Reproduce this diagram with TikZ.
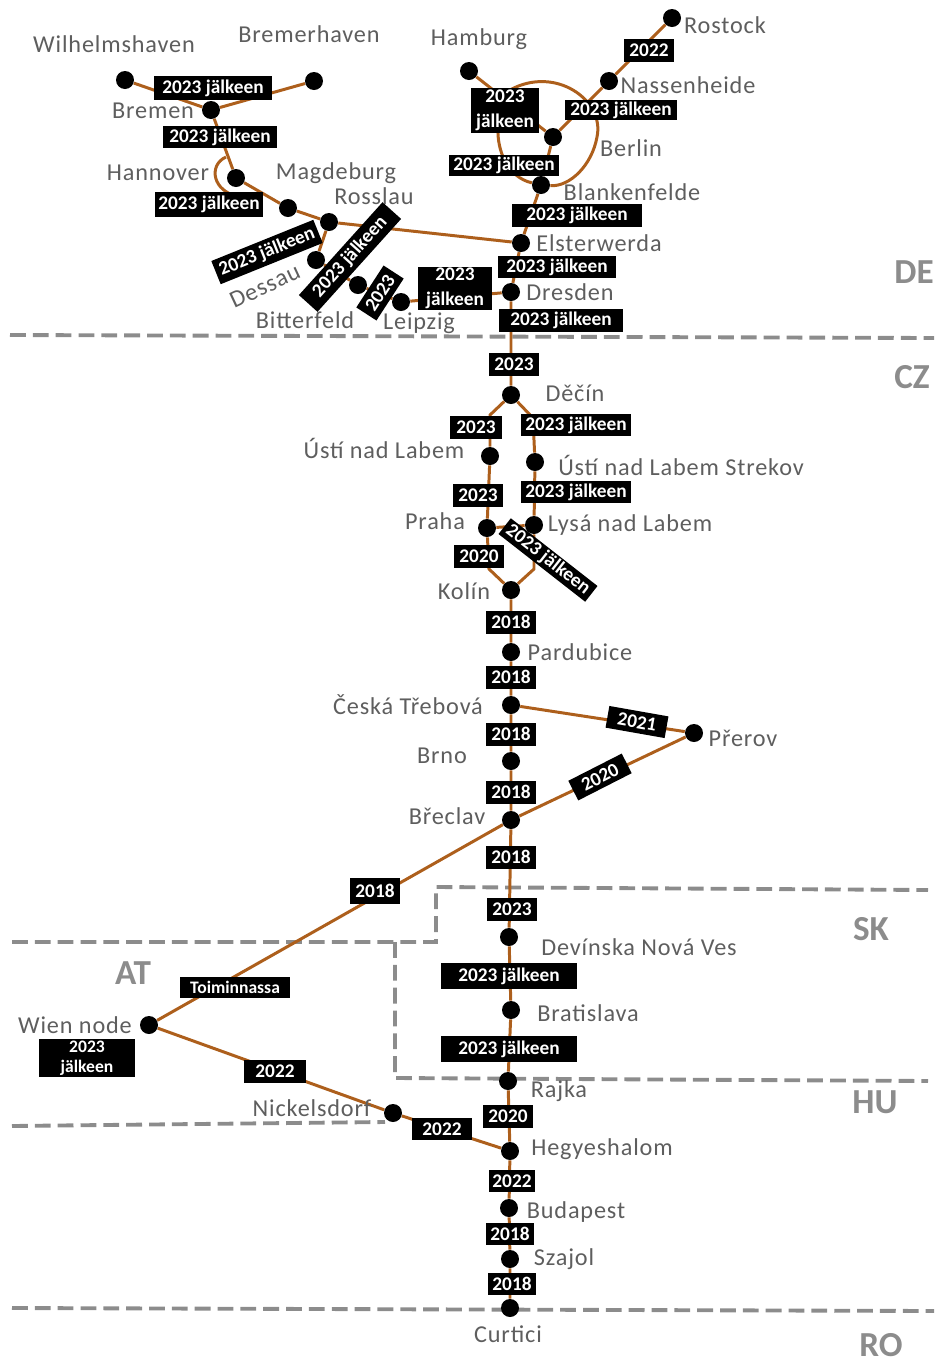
\documentclass[tikz,border=0pt]{standalone}
\usepackage{fontspec}
\usetikzlibrary{backgrounds}
\setmainfont{Carlito}
\newfontfamily\stnfont[LetterSpace=3.5]{Carlito}
\definecolor{trackbrown}{HTML}{AD5F1C}
\definecolor{bordergray}{HTML}{8C8C8C}
\definecolor{stngray}{HTML}{5E5E5E}
\tikzset{
  stn/.style={circle,fill=black,inner sep=0pt,minimum size=0.36cm},
  lbl/.style={inner sep=0pt,text=stngray,font=\stnfont\fontsize{13.8}{15}\selectfont},
  country/.style={inner sep=0pt,text=bordergray,font=\bfseries\fontsize{20}{22}\selectfont},
  tag/.style={fill=black,text=white,inner sep=0pt,align=center,font=\bfseries\fontsize{11}{14}\selectfont},
  tagwide/.style={tag,minimum width=2.2cm,minimum height=0.44cm},
  tagyear/.style={tag,minimum width=1cm,minimum height=0.46cm},
  tagtwo/.style={tag,minimum width=1.4cm,minimum height=0.86cm},
  track/.style={draw=trackbrown,line width=1.7pt},
  border/.style={draw=bordergray,line width=2.2pt,dash pattern=on 9pt off 4pt}
}
\begin{document}
\begin{tikzpicture}[x=0.02cm,y=-0.02cm]
\useasboundingbox (0,0) rectangle (934,1360);

\node [country] (de) at (914,272) {DE};
\node [country] (cz) at (912,377) {CZ};
\node [country] (sk) at (871,929) {SK};
\node [country] (at) at (133,973) {AT};
\node [country] (hu) at (875,1102) {HU};
\node [country] (ro) at (881,1345) {RO};

% stations
\node [stn] (wilhelmshaven) at (125,80) {};
\node [stn] (bremerhaven) at (314,81) {};
\node [stn] (bremen) at (211,110) {};
\node [stn] (hannover) at (236,178) {};
\node [stn] (magdeburg) at (288,208) {};
\node [stn] (rosslau) at (329,222) {};
\node [stn] (dessau) at (316,260) {};
\node [stn] (bitterfeld) at (358,285) {};
\node [stn] (leipzig) at (401,302) {};
\node [stn] (hamburg) at (469,71) {};
\node [stn] (rostock) at (672,18) {};
\node [stn] (nassenheide) at (609,81) {};
\node [stn] (berlin) at (553,137) {};
\node [stn] (blankenfelde) at (541,185) {};
\node [stn] (elsterwerda) at (521,243) {};
\node [stn] (dresden) at (511,292) {};
\node [stn] (decin) at (511,395) {};
\node [stn] (usti) at (490,456) {};
\node [stn] (strekov) at (535,462) {};
\node [stn] (praha) at (487,528) {};
\node [stn] (lysa) at (534,525) {};
\node [stn] (kolin) at (511,590) {};
\node [stn] (pardubice) at (511,652) {};
\node [stn] (trebova) at (511,705) {};
\node [stn] (brno) at (511,761) {};
\node [stn] (breclav) at (511,820) {};
\node [stn] (prerov) at (694,733) {};
\node [stn] (devinska) at (509,937) {};
\node [stn] (bratislava) at (511,1010) {};
\node [stn] (rajka) at (508,1081) {};
\node [stn] (hegyeshalom) at (510,1151) {};
\node [stn] (budapest) at (509,1208) {};
\node [stn] (szajol) at (510,1259) {};
\node [stn] (curtici) at (510,1308) {};
\node [stn] (wien) at (149,1025) {};
\node [stn] (nickelsdorf) at (393,1113) {};

% bends in the tracks
\coordinate (ustibend) at (490,415);
\coordinate (strekovbend) at (533,418);
\coordinate (prahabend) at (489,569);
\coordinate (lysabend) at (534,569);
\coordinate (loopstart) at (226,157);
\coordinate (loopend) at (240,197);
\coordinate (ringstart) at (510,90);
\coordinate (ringleft) at (498,128);

\begin{pgfonlayer}{background}
% country borders
\draw [border] (10,335) -- (934,338);
\draw [border] (12,942) -- (436,942) -- (436,887) -- (928,890);
\draw [border] (395,942) -- (395,1078) -- (928,1081);
\draw [border] (12,1126) -- (385,1122);
\draw [border] (12,1308) -- (934,1311);

\draw [track] (wilhelmshaven) -- (bremen) -- (bremerhaven);
\draw [track] (bremen) -- (hannover) -- (magdeburg) -- (rosslau) -- (elsterwerda);
\draw [track] (loopstart) .. controls (208,165) and (212,192) .. (loopend);
\draw [track] (rosslau) -- (dessau) -- (bitterfeld) -- (leipzig) -- (dresden);
\draw [track] (hamburg) -- (berlin) -- (nassenheide) -- (rostock);
\draw [track] (berlin) -- (blankenfelde) -- (elsterwerda) -- (dresden) -- (decin);
\draw [track] (ringstart) .. controls (555,65) and (605,100) .. (597,137) .. controls (592,165) and (570,187) .. (blankenfelde);
\draw [track] (ringleft) .. controls (497,150) and (507,177) .. (blankenfelde);
\draw [track] (decin) -- (ustibend) -- (usti) -- (praha) -- (prahabend) -- (kolin);
\draw [track] (decin) -- (strekovbend) -- (strekov) -- (lysa) -- (lysabend) -- (kolin);
\draw [track] (praha) -- (lysa);
\draw [track] (kolin) -- (pardubice) -- (trebova) -- (brno) -- (breclav) -- (devinska);
\draw [track] (devinska) -- (bratislava) -- (rajka) -- (hegyeshalom) -- (budapest) -- (szajol) -- (curtici);
\draw [track] (trebova) -- (prerov) -- (breclav) -- (wien) -- (nickelsdorf) -- (hegyeshalom);
\end{pgfonlayer}

% year tags
\node [tagwide,minimum width=2.38cm,minimum height=0.48cm] (t1) at (213,88) {2023 jälkeen};
\node [tagwide,minimum width=2.28cm] (t2) at (220,137) {2023 jälkeen};
\node [tagwide,minimum width=2.16cm,minimum height=0.5cm] (t3) at (209,204) {2023 jälkeen};
\node [tagwide,rotate=22,minimum width=2.2cm,minimum height=0.5cm] (t4) at (267,252) {2023 jälkeen};
\node [tagwide,rotate=48,minimum width=2.5cm,minimum height=0.5cm] (t5) at (350,257) {2023 jälkeen};
\node [tagyear,rotate=57,minimum width=1cm,minimum height=0.48cm] (t6) at (380,293) {2023};
\node [tagtwo,minimum width=1.5cm] (t7) at (455,288) {2023\\jälkeen};
\node [tagyear] (t8) at (649,50) {2022};
\node [tagtwo,minimum width=1.36cm,minimum height=0.9cm] (t9) at (505,110) {2023\\jälkeen};
\node [tagwide,minimum height=0.4cm,minimum width=2.24cm] (t10) at (621,110) {2023 jälkeen};
\node [tagwide,minimum height=0.42cm] (t11) at (504,165) {2023 jälkeen};
\node [tagwide,minimum width=2.62cm,minimum height=0.46cm] (t12) at (577,215) {2023 jälkeen};
\node [tagwide,minimum width=2.36cm] (t13) at (557,267) {2023 jälkeen};
\node [tagwide,minimum width=2.5cm,minimum height=0.46cm] (t14) at (561,320) {2023 jälkeen};
\node [tagyear] (t15) at (514,364) {2023};
\node [tagyear,minimum width=1.06cm] (t16) at (476,427) {2023};
\node [tagwide] (t17) at (576,425) {2023 jälkeen};
\node [tagyear] (t18) at (478,495) {2023};
\node [tagwide] (t19) at (576,492) {2023 jälkeen};
\node [tagyear] (t20) at (479,556) {2020};
\node [tagwide,rotate=-38,minimum height=0.4cm] (t21) at (548,560) {2023 jälkeen};
\node [tagyear] (t22) at (511,622) {2018};
\node [tagyear] (t23) at (511,677) {2018};
\node [tagyear] (t24) at (511,734) {2018};
\node [tagyear] (t25) at (511,792) {2018};
\node [tagyear] (t26) at (511,857) {2018};
\node [tagyear] (t27) at (512,909) {2023};
\node [tagwide,minimum width=2.74cm,minimum height=0.52cm] (t28) at (509,976) {2023 jälkeen};
\node [tagwide,minimum width=2.74cm,minimum height=0.52cm] (t29) at (509,1049) {2023 jälkeen};
\node [tagyear] (t30) at (508,1116) {2020};
\node [tagyear,minimum width=0.94cm,minimum height=0.44cm] (t31) at (512,1181) {2022};
\node [tagyear,minimum width=0.96cm,minimum height=0.44cm] (t32) at (510,1234) {2018};
\node [tagyear,minimum width=0.96cm,minimum height=0.44cm] (t33) at (512,1284) {2018};
\node [tagyear,rotate=-10,minimum width=1.2cm,minimum height=0.44cm] (t34) at (637,722) {2021};
\node [tagyear,rotate=27,minimum width=1.2cm,minimum height=0.44cm] (t35) at (600,777) {2020};
\node [tagyear,minimum height=0.52cm] (t36) at (375,891) {2018};
\node [tagwide,minimum height=0.42cm,font=\bfseries\fontsize{10}{11}\selectfont] (t37) at (235,987) {Toiminnassa};
\node [tagyear,minimum width=1.24cm] (t38) at (275,1071) {2022};
\node [tagyear,minimum width=1.22cm,minimum height=0.44cm] (t39) at (442,1129) {2022};
\node [tagtwo,minimum width=1.92cm,minimum height=0.76cm,font=\bfseries\fontsize{10}{11.5}\selectfont] (t40) at (87,1058) {2023\\jälkeen};

% station names
\node [lbl] (wilhelmshavenlbl) at (114,44) {Wilhelmshaven};
\node [lbl] (bremerhavenlbl) at (309,34) {Bremerhaven};
\node [lbl] (bremenlbl) at (153,111) {Bremen};
\node [lbl] (hannoverlbl) at (158,173) {Hannover};
\node [lbl] (magdeburglbl) at (336,173) {Magdeburg};
\node [lbl] (rosslaulbl) at (374,196) {Rosslau};
\node [lbl,rotate=25] (dessaulbl) at (265,286) {Dessau};
\node [lbl] (bitterfeldlbl) at (305,320) {Bitterfeld};
\node [lbl] (leipziglbl) at (419,323) {Leipzig};
\node [lbl] (hamburglbl) at (479,39) {Hamburg};
\node [lbl] (rostocklbl) at (725,25) {Rostock};
\node [lbl] (nassenheidelbl) at (688,85) {Nassenheide};
\node [lbl] (berlinlbl) at (631,148) {Berlin};
\node [lbl] (blankenfeldelbl) at (632,192) {Blankenfelde};
\node [lbl] (elsterwerdalbl) at (599,243) {Elsterwerda};
\node [lbl] (dresdenlbl) at (570,292) {Dresden};
\node [lbl] (decinlbl) at (575,393) {Děčín};
\node [lbl] (ustilbl) at (384,448) {Ústí nad Labem};
\node [lbl] (strekovlbl) at (681,465) {Ústí nad Labem Strekov};
\node [lbl] (prahalbl) at (435,521) {Praha};
\node [lbl] (lysalbl) at (630,525) {Lysá nad Labem};
\node [lbl] (kolinlbl) at (464,591) {Kolín};
\node [lbl] (pardubicelbl) at (580,652) {Pardubice};
\node [lbl] (trebovalbl) at (408,705) {Česká Třebová};
\node [lbl] (brnolbl) at (442,756) {Brno};
\node [lbl] (breclavlbl) at (447,816) {Břeclav};
\node [lbl] (prerovlbl) at (743,738) {Přerov};
\node [lbl] (devinskalbl) at (639,947) {Devínska Nová Ves};
\node [lbl] (bratislavalbl) at (588,1013) {Bratislava};
\node [lbl] (rajkalbl) at (559,1091) {Rajka};
\node [lbl] (hegyeshalomlbl) at (602,1149) {Hegyeshalom};
\node [lbl] (budapestlbl) at (576,1212) {Budapest};
\node [lbl] (szajollbl) at (564,1259) {Szajol};
\node [lbl] (curticilbl) at (508,1334) {Curtici};
\node [lbl] (wienlbl) at (75,1025) {Wien node};
\node [lbl] (nickelsdorflbl) at (312,1108) {Nickelsdorf};
\end{tikzpicture}
\end{document}
